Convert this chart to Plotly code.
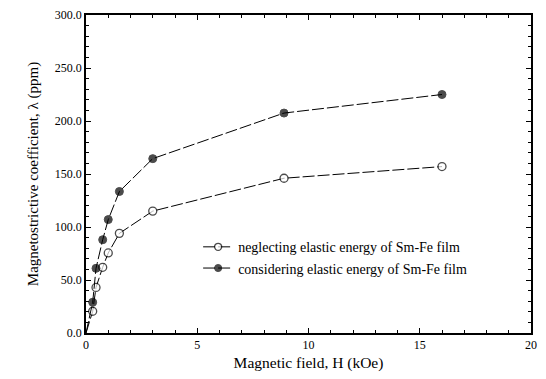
import plotly.graph_objects as go

field = [0, 0.3, 0.45, 0.75, 1.0, 1.5, 3.0, 8.9, 16.0]
neglecting = [0, 20.5, 43, 62, 75.5, 94, 115, 146, 157]
considering = [0, 29, 61, 88, 107, 133.5, 164.5, 207.5, 225]
marker_sizes = [0, 8, 8, 8, 8, 8, 8, 8, 8]

fig = go.Figure()
fig.add_trace(go.Scatter(
    x=field, y=neglecting, mode="lines+markers",
    name="neglecting elastic energy of Sm-Fe film",
    line=dict(color="black", width=1, dash="12px,3px"),
    marker=dict(symbol="circle", size=marker_sizes, color="white",
                line=dict(color="black", width=1.3)),
))
fig.add_trace(go.Scatter(
    x=field, y=considering, mode="lines+markers",
    name="considering elastic energy of Sm-Fe film",
    line=dict(color="black", width=1, dash="12px,3px"),
    marker=dict(symbol="circle", size=marker_sizes, color="black",
                line=dict(color="black", width=1)),
))

font_family = "Liberation Serif, Times New Roman, serif"
axis_common = dict(
    showline=True, linecolor="black", linewidth=1.8, mirror="ticks",
    ticks="inside", ticklen=5, tickcolor="black", tickwidth=1.3,
    showgrid=False, zeroline=False, automargin=False,
    ticklabeloverflow="allow",
    tickfont=dict(family=font_family, size=12, color="black"),
)
fig.update_xaxes(range=[0, 20], dtick=5, tick0=0,
                 minor=dict(dtick=1, ticks="inside", ticklen=3, tickcolor="black"),
                 title=dict(text="Magnetic field, H (kOe)",
                            font=dict(family=font_family, size=15.5, color="black"),
                            standoff=6),
                 **axis_common)
fig.update_yaxes(range=[0, 300], dtick=50, tick0=0, tickformat=".1f",
                 minor=dict(dtick=10, ticks="inside", ticklen=3, tickcolor="black"),
                 title=dict(text="Magnetostrictive coefficient, λ (ppm)",
                            font=dict(family=font_family, size=15, color="black"),
                            standoff=12),
                 **axis_common)
# page body has an 8px default margin, so the figure is sized/margined to compensate
fig.update_layout(
    width=538, height=371,
    margin=dict(l=78, r=15, t=7, b=46),
    paper_bgcolor="white", plot_bgcolor="white",
    font=dict(family=font_family, color="black"),
    legend=dict(x=0.252, y=0.32, xanchor="left", yanchor="top",
                bgcolor="rgba(0,0,0,0)", font=dict(family=font_family, size=14),
                itemwidth=30, tracegroupgap=0),
)
fig.write_html("out.html")
